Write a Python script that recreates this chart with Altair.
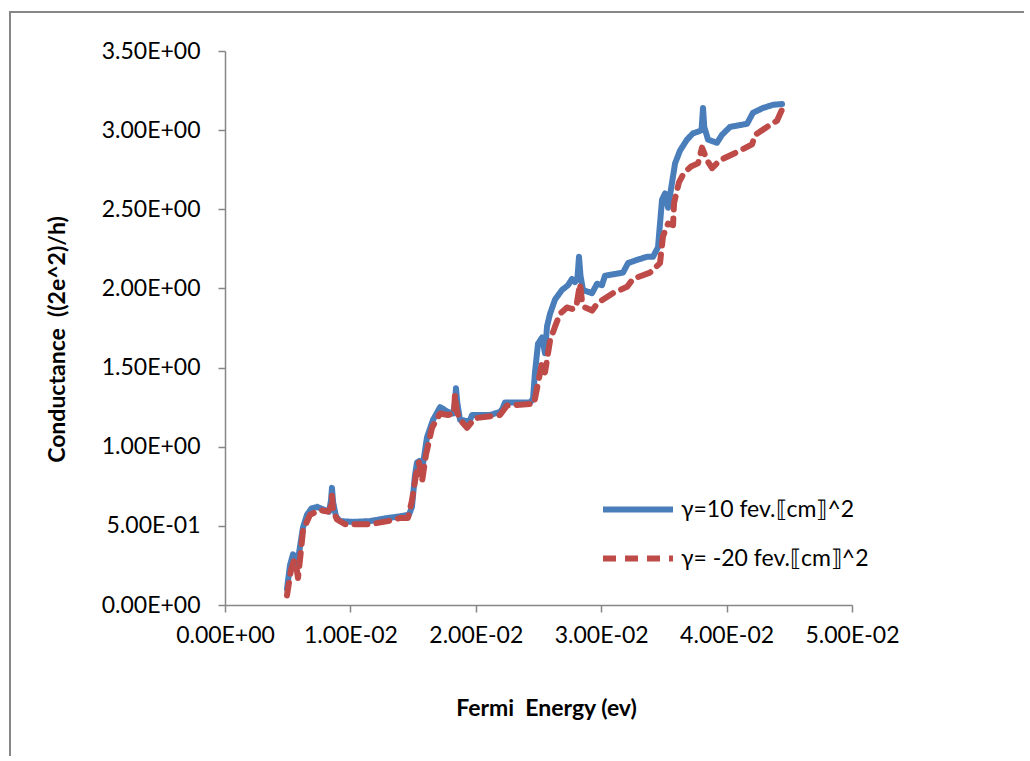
import altair as alt
import pandas as pd

# ---- data ----
series_names = ["γ=10 fev.⟦cm⟧^2", "γ= -20 fev.⟦cm⟧^2"]

x_blue = [0.00494, 0.00518, 0.00542, 0.00560, 0.00576, 0.00600, 0.00622, 0.00654, 0.00690,
          0.00734, 0.00797, 0.00830, 0.00845, 0.00853, 0.00862, 0.00885, 0.00917, 0.01021,
          0.01156, 0.01300, 0.01396, 0.01467, 0.01491, 0.01515, 0.01531, 0.01551, 0.01571,
          0.01611, 0.01659, 0.01715, 0.01778, 0.01820, 0.01834, 0.01842, 0.01852, 0.01874,
          0.01938, 0.01955, 0.01970, 0.02113, 0.02193, 0.02213, 0.02233, 0.02432, 0.02456,
          0.02472, 0.02496, 0.02528, 0.02552, 0.02568, 0.02592, 0.02632, 0.02687, 0.02735,
          0.02767, 0.02791, 0.02810, 0.02823, 0.02835, 0.02855, 0.02927, 0.02967, 0.03006,
          0.03030, 0.03174, 0.03214, 0.03285, 0.03365, 0.03413, 0.03453, 0.03485, 0.03509,
          0.03533, 0.03565, 0.03589, 0.03628, 0.03684, 0.03732, 0.03772, 0.03800, 0.03812,
          0.03822, 0.03852, 0.03923, 0.03963, 0.04027, 0.04163, 0.04211, 0.04290, 0.04370,
          0.04442]
y_blue = [0.10, 0.25, 0.32, 0.30, 0.25, 0.38, 0.49, 0.57, 0.61,
          0.62, 0.60, 0.59, 0.66, 0.74, 0.65, 0.56, 0.53, 0.525,
          0.53, 0.55, 0.56, 0.57, 0.62, 0.82, 0.90, 0.91, 0.85,
          1.06, 1.17, 1.25, 1.22, 1.21, 1.28, 1.37, 1.28, 1.17,
          1.16, 1.17, 1.20, 1.20, 1.22, 1.24, 1.28, 1.28, 1.30,
          1.47, 1.65, 1.69, 1.59, 1.76, 1.84, 1.93, 1.99, 2.02,
          2.06, 2.04, 2.06, 2.20, 2.08, 1.99, 1.97, 2.03, 2.02,
          2.08, 2.10, 2.16, 2.18, 2.20, 2.20, 2.26, 2.56, 2.60,
          2.51, 2.67, 2.79, 2.87, 2.94, 2.98, 2.99, 3.00, 3.14,
          3.02, 2.94, 2.92, 2.97, 3.02, 3.04, 3.11, 3.14, 3.16,
          3.165]

x_red = [0.00494, 0.00526, 0.00550, 0.00566, 0.00582, 0.00600, 0.00622, 0.00678, 0.00758,
         0.00821, 0.00845, 0.00853, 0.00862, 0.00893, 0.00957, 0.01156, 0.01300, 0.01396,
         0.01459, 0.01491, 0.01523, 0.01547, 0.01571, 0.01603, 0.01651, 0.01715, 0.01778,
         0.01826, 0.01834, 0.01850, 0.01874, 0.01930, 0.01994, 0.02193, 0.02249, 0.02440,
         0.02464, 0.02496, 0.02528, 0.02552, 0.02592, 0.02632, 0.02671, 0.02727, 0.02767,
         0.02800, 0.02831, 0.02847, 0.02871, 0.02927, 0.02975, 0.03094, 0.03206, 0.03254,
         0.03389, 0.03469, 0.03493, 0.03533, 0.03573, 0.03581, 0.03620, 0.03660, 0.03716,
         0.03772, 0.03804, 0.03844, 0.03884, 0.03947, 0.04107, 0.04203, 0.04227, 0.04322,
         0.04402, 0.04442]
y_red = [0.06, 0.22, 0.28, 0.26, 0.17, 0.30, 0.47, 0.57, 0.60,
         0.59, 0.62, 0.69, 0.60, 0.54, 0.51, 0.51, 0.53, 0.55,
         0.55, 0.66, 0.82, 0.90, 0.78, 0.95, 1.12, 1.21, 1.20,
         1.21, 1.33, 1.22, 1.17, 1.12, 1.18, 1.20, 1.26, 1.27,
         1.27, 1.40, 1.53, 1.47, 1.67, 1.76, 1.84, 1.88, 1.87,
         1.88, 2.03, 1.92, 1.88, 1.86, 1.91, 1.97, 2.01, 2.06,
         2.10, 2.16, 2.33, 2.41, 2.40, 2.54, 2.67, 2.73, 2.77,
         2.79, 2.89, 2.81, 2.76, 2.81, 2.87, 2.91, 2.97, 3.02,
         3.06, 3.13]

x_ticks = [0.0, 0.01, 0.02, 0.03, 0.04, 0.05]
x_tick_labels = ["0.00E+00", "1.00E-02", "2.00E-02", "3.00E-02", "4.00E-02", "5.00E-02"]
y_ticks = [0.0, 0.5, 1.0, 1.5, 2.0, 2.5, 3.0, 3.5]
y_tick_labels = ["0.00E+00", "5.00E-01", "1.00E+00", "1.50E+00", "2.00E+00",
                 "2.50E+00", "3.00E+00", "3.50E+00"]

x_title = "Fermi\u00a0 Energy (ev)"
y_title = "Conductance\u00a0 ((2e^2)/h)"

colors = ["#4A7EBB", "#BE4B48"]

rows = []
for i, (xs, ys) in enumerate([(x_blue, y_blue), (x_red, y_red)]):
    for k, (a, b) in enumerate(zip(xs, ys)):
        rows.append({"E": a, "G": b, "series": series_names[i], "order": k})
df = pd.DataFrame(rows)

FONT = "Lato"
FS = 23
W, H = 627, 554
PAD_L, PAD_T = 225, 51
PAD_R, PAD_B = 1024 - 225 - W, 756 - 51 - H

x_expr = "[" + ",".join("'%s'" % s for s in x_tick_labels) + "][round(datum.value*100)]"
y_expr = "[" + ",".join("'%s'" % s for s in y_tick_labels) + "][round(datum.value*2)]"

axis_common = dict(
    grid=False, domainColor="#868686", tickColor="#868686", domainWidth=1.5,
    tickWidth=1.5, tickSize=7, labelFont=FONT, labelFontSize=FS, labelColor="#000000",
    titleFont=FONT, titleFontSize=FS, titleFontWeight="bold", titleColor="#000000",
    labelOverlap=False, labelFlush=False,
)

legend_common = dict(orient="none", legendX=375, legendY=434, title=None,
                     symbolType="stroke", symbolSize=4900, symbolStrokeWidth=6,
                     labelFont=FONT, labelFontSize=FS, labelColor="#000000",
                     labelLimit=500, labelOffset=5, clipHeight=49, rowPadding=0, padding=0)

lines = alt.Chart(df).mark_line(strokeWidth=6, strokeCap="round", strokeJoin="round").encode(
    x=alt.X("E:Q", scale=alt.Scale(domain=[0, 0.05], nice=False),
            axis=alt.Axis(values=x_ticks, labelExpr=x_expr, title=x_title,
                          labelPadding=12, titleX=321, titleY=103, titleBaseline="middle",
                          titleAlign="center", **axis_common)),
    y=alt.Y("G:Q", scale=alt.Scale(domain=[0, 3.5], nice=False),
            axis=alt.Axis(values=y_ticks, labelExpr=y_expr, title=y_title,
                          labelPadding=18, titleX=-168, titleY=288, titleBaseline="middle",
                          titleAlign="center", titleAngle=270, **axis_common)),
    color=alt.Color("series:N", scale=alt.Scale(domain=series_names, range=colors),
                    legend=alt.Legend(**legend_common)),
    strokeDash=alt.StrokeDash("series:N", scale=alt.Scale(domain=series_names,
                                                          range=[[1, 0], [13, 9]]),
                              legend=alt.Legend(**legend_common)),
    order="order:Q",
)

frame_left = alt.Chart(df).mark_rule(color="#878787", strokeWidth=2).encode(
    x=alt.value(-215), y=alt.value(-39), y2=alt.value(H + PAD_B))
frame_top = alt.Chart(df).mark_rule(color="#878787", strokeWidth=2).encode(
    x=alt.value(-216), x2=alt.value(W + PAD_R), y=alt.value(-39))

chart = alt.layer(lines, frame_left, frame_top).properties(
    width=W, height=H,
    autosize=alt.AutoSizeParams(type="none"),
    padding={"left": PAD_L, "top": PAD_T, "right": PAD_R, "bottom": PAD_B},
    background="white",
).configure_view(stroke=None)

chart.save("out.html", embed_options={"renderer": "svg", "actions": False})
